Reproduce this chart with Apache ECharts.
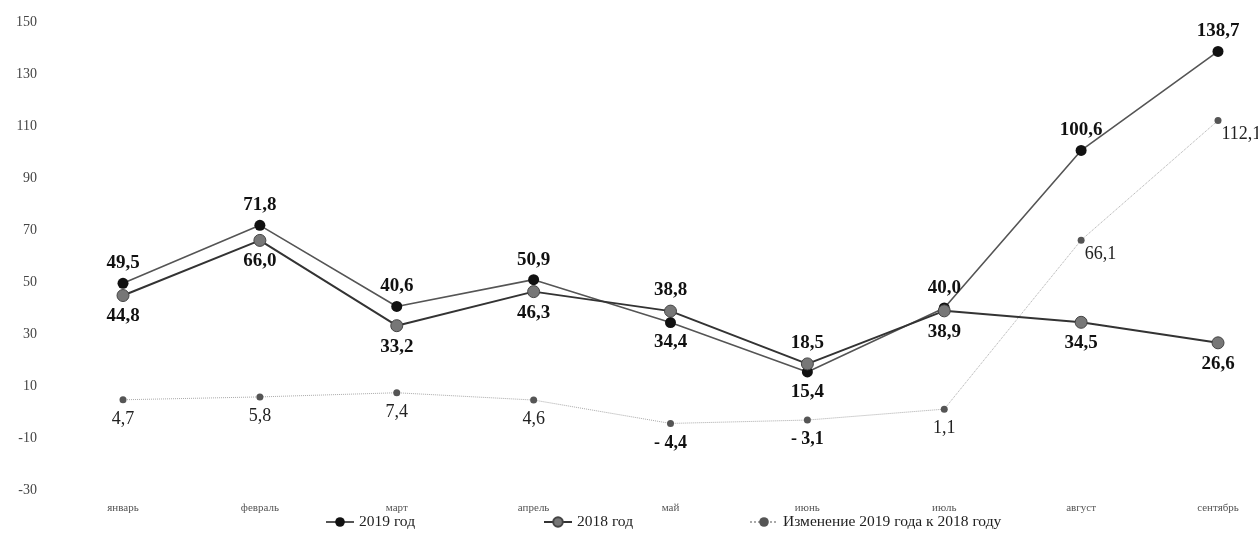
<!DOCTYPE html>
<html>
<head>
<meta charset="utf-8">
<script src="https://cdn.jsdelivr.net/npm/echarts@6/dist/echarts.min.js"></script>
<style>
html,body{margin:0;padding:0;background:#fff;}
#chart{width:1258px;height:545px;}
</style>
</head>
<body>
<div id="chart"></div>
<script>
const categories = ['январь','февраль','март','апрель','май','июнь','июль','август','сентябрь'];
const values2019 = [49.5, 71.8, 40.6, 50.9, 34.4, 15.4, 40.0, 100.6, 138.7];
const values2018 = [44.8, 66.0, 33.2, 46.3, 38.8, 18.5, 38.9, 34.5, 26.6];
const valuesChange = [4.7, 5.8, 7.4, 4.6, -4.4, -3.1, 1.1, 66.1, 112.1];
const seriesNames = ['2019 год', '2018 год', 'Изменение 2019 года к 2018 году'];
const yTicks = [-30, -10, 10, 30, 50, 70, 90, 110, 130, 150];

const FONT = '"Liberation Serif", "Times New Roman", serif';
function fmt(v){
  if (v < 0) return '- ' + Math.abs(v).toFixed(1).replace('.', ',');
  return v.toFixed(1).replace('.', ',');
}
const boldLabel = {fontFamily: FONT, fontSize: 19, fontWeight: 'bold', color: '#111'};

const data2019 = values2019.map((v, i) => ({
  value: v,
  label: {position: v >= values2018[i] ? 'top' : 'bottom', distance: 5}
}));
const data2018 = values2018.map((v, i) => ({
  value: v,
  label: {position: v > values2019[i] ? 'top' : 'bottom', distance: 5}
}));
const dataChange = valuesChange.map((v) => {
  const big = v > 50;
  const neg = v < 0;
  return {
    value: v,
    label: big
      ? {position: 'right', distance: 0, offset: [0, 14]}
      : {position: 'bottom', distance: 7, fontWeight: neg ? 'bold' : 'normal', color: neg ? '#111' : '#222'}
  };
});

function legendAt(name, left){
  return {
    data: [name], left: left, bottom: 10,
    itemWidth: 28, itemHeight: 12, itemGap: 4,
    textStyle: {fontFamily: FONT, fontSize: 15.5, color: '#222'}
  };
}

const chart = echarts.init(document.getElementById('chart'));
chart.setOption({
  animation: false,
  backgroundColor: '#fff',
  grid: {left: 123, right: 40, top: 22, bottom: 55},
  xAxis: {
    type: 'category',
    data: categories,
    boundaryGap: false,
    axisLine: {show: false},
    axisTick: {show: false},
    axisLabel: {fontFamily: FONT, fontSize: 11, color: '#555', margin: 13}
  },
  yAxis: {
    type: 'value',
    min: yTicks[0],
    max: yTicks[yTicks.length - 1],
    interval: 20,
    axisLine: {show: false},
    axisTick: {show: false},
    splitLine: {show: false},
    axisLabel: {fontFamily: FONT, fontSize: 14, color: '#444', margin: 86}
  },
  legend: [
    legendAt(seriesNames[0], 320),
    legendAt(seriesNames[1], 538),
    legendAt(seriesNames[2], 744)
  ],
  series: [
    {
      name: seriesNames[0],
      type: 'line',
      data: data2019,
      symbol: 'circle',
      symbolSize: 11,
      itemStyle: {color: '#111'},
      lineStyle: {color: '#555', width: 1.6},
      label: Object.assign({show: true, formatter: p => fmt(p.value)}, boldLabel),
      z: 3
    },
    {
      name: seriesNames[1],
      type: 'line',
      data: data2018,
      symbol: 'circle',
      symbolSize: 12,
      itemStyle: {color: '#777', borderColor: '#444', borderWidth: 1},
      lineStyle: {color: '#333', width: 2},
      label: Object.assign({show: true, formatter: p => fmt(p.value)}, boldLabel),
      z: 4
    },
    {
      name: seriesNames[2],
      type: 'line',
      data: dataChange,
      symbol: 'circle',
      symbolSize: 7,
      itemStyle: {color: '#555'},
      lineStyle: {color: '#aaa', width: 1, type: 'dotted'},
      label: {show: true, formatter: p => fmt(p.value), fontFamily: FONT, fontSize: 18, color: '#222'},
      z: 2
    }
  ]
});
</script>
</body>
</html>
